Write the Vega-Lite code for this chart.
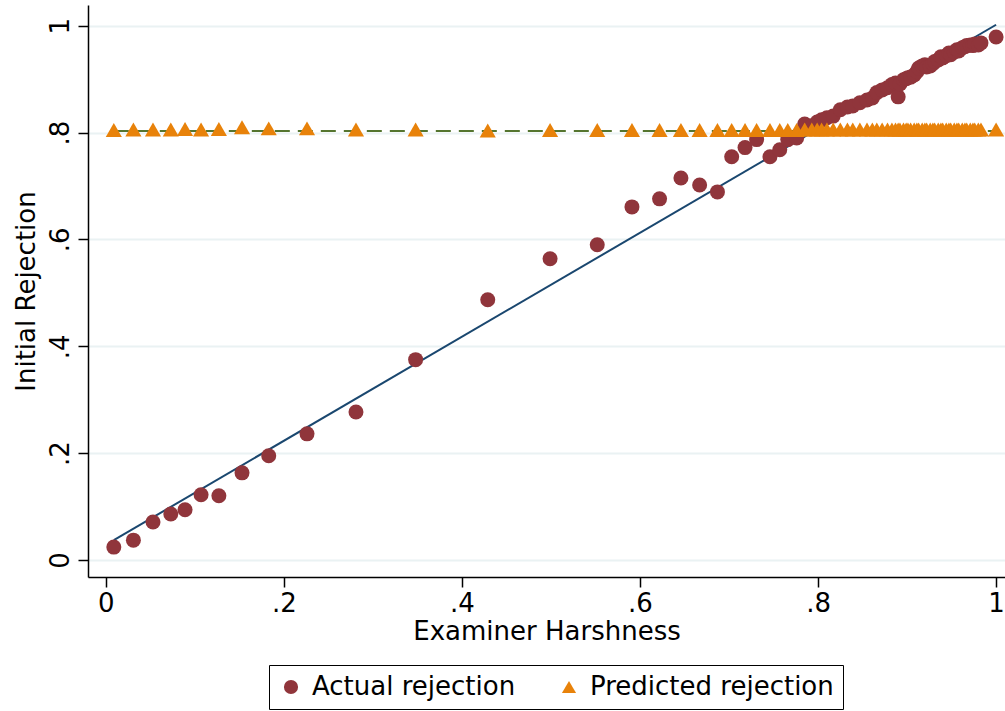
{
  "$schema": "https://vega.github.io/schema/vega-lite/v6.json",
  "autosize": {"type": "none"},
  "padding": {"left": 88, "top": 5, "right": 0, "bottom": 134},
  "width": 917,
  "height": 572,
  "background": "white",
  "config": {
    "view": {"stroke": null},
    "font": "DejaVu Sans",
    "axis": {
      "labelFont": "DejaVu Sans",
      "titleFont": "DejaVu Sans",
      "labelFontSize": 26,
      "titleFontSize": 26,
      "titleFontWeight": "normal",
      "labelColor": "black",
      "titleColor": "black",
      "domainColor": "black",
      "domainWidth": 1.5,
      "tickColor": "black",
      "tickWidth": 1.5,
      "tickSize": 10
    },
    "legend": {
      "labelFont": "DejaVu Sans",
      "labelFontSize": 26,
      "labelColor": "black"
    }
  },
  "datasets": {
    "pts": [
      {"x": 0.009, "actual": 0.024, "predicted": 0.805},
      {"x": 0.031, "actual": 0.037, "predicted": 0.806},
      {"x": 0.053, "actual": 0.071, "predicted": 0.806},
      {"x": 0.073, "actual": 0.086, "predicted": 0.806},
      {"x": 0.089, "actual": 0.094, "predicted": 0.807},
      {"x": 0.107, "actual": 0.122, "predicted": 0.806},
      {"x": 0.127, "actual": 0.120, "predicted": 0.807},
      {"x": 0.153, "actual": 0.163, "predicted": 0.810},
      {"x": 0.183, "actual": 0.195, "predicted": 0.808},
      {"x": 0.226, "actual": 0.236, "predicted": 0.808},
      {"x": 0.281, "actual": 0.277, "predicted": 0.806},
      {"x": 0.348, "actual": 0.375, "predicted": 0.806},
      {"x": 0.429, "actual": 0.487, "predicted": 0.804},
      {"x": 0.499, "actual": 0.564, "predicted": 0.805},
      {"x": 0.552, "actual": 0.590, "predicted": 0.805},
      {"x": 0.591, "actual": 0.661, "predicted": 0.805},
      {"x": 0.622, "actual": 0.676, "predicted": 0.805},
      {"x": 0.646, "actual": 0.715, "predicted": 0.805},
      {"x": 0.667, "actual": 0.702, "predicted": 0.805},
      {"x": 0.687, "actual": 0.689, "predicted": 0.805},
      {"x": 0.703, "actual": 0.755, "predicted": 0.805},
      {"x": 0.718, "actual": 0.772, "predicted": 0.805},
      {"x": 0.731, "actual": 0.787, "predicted": 0.805},
      {"x": 0.746, "actual": 0.755, "predicted": 0.805},
      {"x": 0.757, "actual": 0.768, "predicted": 0.805},
      {"x": 0.766, "actual": 0.787, "predicted": 0.805},
      {"x": 0.776, "actual": 0.790, "predicted": 0.805},
      {"x": 0.785, "actual": 0.816, "predicted": 0.806},
      {"x": 0.793, "actual": 0.813, "predicted": 0.806},
      {"x": 0.799, "actual": 0.820, "predicted": 0.806},
      {"x": 0.804, "actual": 0.824, "predicted": 0.806},
      {"x": 0.810, "actual": 0.828, "predicted": 0.806},
      {"x": 0.817, "actual": 0.831, "predicted": 0.806},
      {"x": 0.825, "actual": 0.843, "predicted": 0.806},
      {"x": 0.833, "actual": 0.848, "predicted": 0.806},
      {"x": 0.839, "actual": 0.850, "predicted": 0.806},
      {"x": 0.847, "actual": 0.856, "predicted": 0.806},
      {"x": 0.855, "actual": 0.861, "predicted": 0.806},
      {"x": 0.861, "actual": 0.865, "predicted": 0.806},
      {"x": 0.866, "actual": 0.875, "predicted": 0.806},
      {"x": 0.872, "actual": 0.880, "predicted": 0.806},
      {"x": 0.878, "actual": 0.884, "predicted": 0.806},
      {"x": 0.883, "actual": 0.890, "predicted": 0.806},
      {"x": 0.887, "actual": 0.893, "predicted": 0.806},
      {"x": 0.890, "actual": 0.867, "predicted": 0.806},
      {"x": 0.892, "actual": 0.891, "predicted": 0.806},
      {"x": 0.896, "actual": 0.899, "predicted": 0.806},
      {"x": 0.899, "actual": 0.901, "predicted": 0.806},
      {"x": 0.901, "actual": 0.903, "predicted": 0.806},
      {"x": 0.904, "actual": 0.904, "predicted": 0.806},
      {"x": 0.908, "actual": 0.908, "predicted": 0.806},
      {"x": 0.911, "actual": 0.914, "predicted": 0.806},
      {"x": 0.913, "actual": 0.921, "predicted": 0.806},
      {"x": 0.917, "actual": 0.925, "predicted": 0.806},
      {"x": 0.920, "actual": 0.927, "predicted": 0.806},
      {"x": 0.922, "actual": 0.923, "predicted": 0.806},
      {"x": 0.926, "actual": 0.925, "predicted": 0.806},
      {"x": 0.929, "actual": 0.929, "predicted": 0.806},
      {"x": 0.931, "actual": 0.933, "predicted": 0.806},
      {"x": 0.935, "actual": 0.936, "predicted": 0.806},
      {"x": 0.938, "actual": 0.942, "predicted": 0.806},
      {"x": 0.940, "actual": 0.940, "predicted": 0.806},
      {"x": 0.944, "actual": 0.944, "predicted": 0.806},
      {"x": 0.947, "actual": 0.949, "predicted": 0.806},
      {"x": 0.949, "actual": 0.946, "predicted": 0.806},
      {"x": 0.953, "actual": 0.951, "predicted": 0.806},
      {"x": 0.956, "actual": 0.955, "predicted": 0.806},
      {"x": 0.958, "actual": 0.953, "predicted": 0.806},
      {"x": 0.962, "actual": 0.959, "predicted": 0.806},
      {"x": 0.965, "actual": 0.961, "predicted": 0.806},
      {"x": 0.967, "actual": 0.963, "predicted": 0.806},
      {"x": 0.971, "actual": 0.964, "predicted": 0.806},
      {"x": 0.974, "actual": 0.963, "predicted": 0.806},
      {"x": 0.976, "actual": 0.966, "predicted": 0.806},
      {"x": 0.980, "actual": 0.964, "predicted": 0.806},
      {"x": 0.983, "actual": 0.968, "predicted": 0.806},
      {"x": 1.000, "actual": 0.979, "predicted": 0.806}
    ],
    "fit": [
      {"x": 0.009, "y": 0.037},
      {"x": 1.0, "y": 1.002}
    ],
    "predline": [
      {"x": 0.009, "y": 0.803},
      {"x": 1.0, "y": 0.803}
    ]
  },
  "layer": [
    {
      "data": {"name": "fit"},
      "mark": {"type": "line", "color": "#1a476f", "strokeWidth": 2},
      "encoding": {
        "x": {"field": "x", "type": "quantitative"},
        "y": {"field": "y", "type": "quantitative"}
      }
    },
    {
      "data": {"name": "predline"},
      "mark": {"type": "line", "color": "#55752f", "strokeWidth": 2, "strokeDash": [15, 8]},
      "encoding": {
        "x": {"field": "x", "type": "quantitative"},
        "y": {"field": "y", "type": "quantitative"}
      }
    },
    {
      "data": {"name": "pts"},
      "mark": {"type": "point", "filled": true, "opacity": 1, "size": 225},
      "encoding": {
        "x": {"field": "x", "type": "quantitative"},
        "y": {"field": "actual", "type": "quantitative"},
        "color": {
          "datum": "Actual rejection",
          "type": "nominal",
          "scale": {"domain": ["Actual rejection", "Predicted rejection"], "range": ["#90353b", "#e8820a"]},
          "legend": {
            "title": null,
            "orient": "none",
            "legendX": 181,
            "legendY": 660,
            "direction": "horizontal",
            "columns": 2,
            "strokeColor": "black",
            "fillColor": "white",
            "padding": 9,
            "symbolSize": 200,
            "symbolOpacity": 1,
            "labelOffset": 8,
            "columnPadding": 40,
            "labelFontSize": 26,
            "labelFont": "DejaVu Sans",
            "labelLimit": 400
          }
        },
        "shape": {
          "datum": "Actual rejection",
          "type": "nominal",
          "scale": {"domain": ["Actual rejection", "Predicted rejection"], "range": ["circle", "triangle-up"]}
        }
      }
    },
    {
      "data": {"name": "pts"},
      "mark": {"type": "point", "filled": true, "opacity": 1, "size": 260},
      "encoding": {
        "x": {"field": "x", "type": "quantitative"},
        "y": {"field": "predicted", "type": "quantitative"},
        "color": {"datum": "Predicted rejection", "type": "nominal"},
        "shape": {"datum": "Predicted rejection", "type": "nominal"}
      }
    }
  ],
  "encoding": {
    "x": {
      "field": "x",
      "type": "quantitative",
      "title": "Examiner Harshness",
      "scale": {"domain": [-0.02, 1.01], "nice": false, "zero": false},
      "axis": {
        "values": [0, 0.2, 0.4, 0.6, 0.8, 1],
        "labelExpr": "replace(format(datum.value, '.1~f'), '0.', '.')",
        "grid": false,
        "labelPadding": 3,
        "titlePadding": 2
      }
    },
    "y": {
      "type": "quantitative",
      "title": "Initial Rejection",
      "scale": {"domain": [-0.032, 1.039], "nice": false, "zero": false},
      "axis": {
        "values": [0, 0.2, 0.4, 0.6, 0.8, 1],
        "labelExpr": "replace(format(datum.value, '.1~f'), '0.', '.')",
        "labelAngle": -90,
        "labelAlign": "center",
        "labelBaseline": "bottom",
        "labelPadding": 5,
        "grid": true,
        "gridColor": "#eaf2f3",
        "gridWidth": 2,
        "titlePadding": 8
      }
    }
  },
  "resolve": {"scale": {"color": "shared", "shape": "shared"}}
}
